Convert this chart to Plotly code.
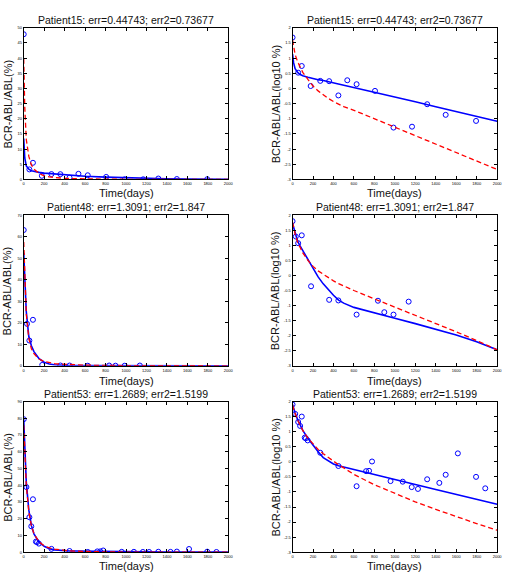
import plotly.graph_objects as go

W, H = 513, 578

titles = ["Patient15: err=0.44743; err2=0.73677",
          "Patient48: err=1.3091; err2=1.847",
          "Patient53: err=1.2689; err2=1.5199"]

# model time grid (days)
t_model = [0, 10, 25, 50, 75, 100, 150, 200, 250, 300, 350, 400, 450, 500,
           600, 800, 1000, 1200, 1400, 1600, 1800, 2000]

# ---- Patient15 ----
p15_t = [0, 55, 90, 177, 271, 358, 448, 535, 626, 806, 987, 1168, 1316, 1497, 1794]
p15_log = [1.68, 0.52, 0.74, 0.08, 0.25, 0.24, -0.23, 0.27, 0.14, -0.08, -1.29, -1.26, -0.52, -0.87, -1.07]
p15_blue = [1.13, 0.85, 0.65, 0.53, 0.46, 0.42, 0.37, 0.32, 0.29, 0.26, 0.22, 0.19, 0.15, 0.11,
            0.03, -0.12, -0.28, -0.44, -0.60, -0.76, -0.92, -1.08]
p15_red = [1.60, 1.38, 1.12, 0.88, 0.68, 0.53, 0.30, 0.08, -0.08, -0.22, -0.33, -0.43, -0.52, -0.60,
           -0.72, -1.00, -1.27, -1.55, -1.84, -2.10, -2.39, -2.67]

# ---- Patient48 ----
p48_t = [0, 32, 55, 90, 181, 358, 448, 626, 835, 897, 987, 1135]
p48_log = [1.80, 1.29, 1.07, 1.33, -0.36, -0.81, -0.83, -1.30, -0.84, -1.22, -1.30, -0.87]
p48_blue = [1.72, 1.60, 1.40, 1.13, 0.97, 0.82, 0.52, 0.22, -0.05, -0.28, -0.48, -0.66, -0.82, -0.92,
            -1.06, -1.25, -1.42, -1.60, -1.78, -1.98, -2.20, -2.47]
p48_red = [1.76, 1.60, 1.38, 1.10, 0.90, 0.75, 0.50, 0.30, 0.15, 0.03, -0.08, -0.18, -0.27, -0.35,
           -0.50, -0.78, -1.05, -1.33, -1.60, -1.87, -2.16, -2.47]

# ---- Patient53 ----
p53_t = [0, 26, 55, 74, 90, 119, 130, 148, 271, 448, 626, 719, 748, 777, 958, 1077, 1165, 1226,
         1316, 1435, 1497, 1616, 1794, 1884]
p53_log = [1.90, 1.59, 1.32, 1.19, 1.50, 0.80, 0.78, 0.71, 0.30, -0.14, -0.81, -0.31, -0.30, 0.01,
           -0.64, -0.66, -0.84, -0.90, -0.58, -0.70, -0.43, 0.28, -0.50, -0.88]
p53_blue = [1.90, 1.78, 1.62, 1.40, 1.20, 1.04, 0.78, 0.55, 0.33, 0.14, 0.02, -0.07, -0.13, -0.17,
            -0.25, -0.41, -0.58, -0.75, -0.92, -1.08, -1.25, -1.41]
p53_red = [1.88, 1.76, 1.60, 1.38, 1.20, 1.04, 0.79, 0.58, 0.41, 0.27, 0.14, 0.02, -0.10, -0.20,
           -0.42, -0.76, -1.05, -1.33, -1.58, -1.82, -2.05, -2.27]

lin_ymax = [50, 70, 90]
lin_dtick = [5, 10, 10]
x_ticks = list(range(0, 2001, 200))
log_ticks = [-3, -2.5, -2, -1.5, -1, -0.5, 0, 0.5, 1, 1.5, 2]

data_t = [p15_t, p48_t, p53_t]
data_log = [p15_log, p48_log, p53_log]
blue_log = [p15_blue, p48_blue, p53_blue]
red_log = [p15_red, p48_red, p53_red]

def pct(v):
    return [10 ** x for x in v]

# panel geometry in pixels
col_px = [(23, 230), (295, 502)]
row_px = [(25, 178), (214, 366), (402, 554)]
title_y = [17, 206, 394]
xlab_y = [192, 381, 568]

fig = go.Figure()
layout = {}
annotations = []
FONT = "Liberation Sans, Arial, sans-serif"
BLUE = "#0000ff"
RED = "#ff0000"

n = 0
for r in range(3):
    for c in range(2):
        n += 1
        xa = "x" if n == 1 else f"x{n}"
        ya = "y" if n == 1 else f"y{n}"
        conv = pct if c == 0 else (lambda v: v)
        fig.add_trace(go.Scatter(x=data_t[r], y=conv(data_log[r]), mode="markers",
                                 marker=dict(symbol="circle-open", color=BLUE, size=5,
                                             line=dict(width=1, color=BLUE)),
                                 xaxis=xa, yaxis=ya, showlegend=False))
        fig.add_trace(go.Scatter(x=t_model, y=conv(blue_log[r]), mode="lines",
                                 line=dict(color=BLUE, width=1.6),
                                 xaxis=xa, yaxis=ya, showlegend=False))
        fig.add_trace(go.Scatter(x=t_model, y=conv(red_log[r]), mode="lines",
                                 line=dict(color=RED, width=1.3, dash="5px,3px"),
                                 xaxis=xa, yaxis=ya, showlegend=False))
        x0, x1 = col_px[c]
        y0, y1 = row_px[r]
        common = dict(showline=True, linecolor="black", linewidth=1, mirror="ticks",
                      ticks="inside", ticklen=3, tickcolor="black", tickwidth=1,
                      showgrid=False, zeroline=False,
                      tickfont=dict(size=4, color="black", family=FONT))
        layout["xaxis" if n == 1 else f"xaxis{n}"] = dict(
            domain=[x0 / W, x1 / W], anchor=ya, range=[0, 2000],
            tickvals=x_ticks, **common)
        if c == 0:
            yd = dict(range=[0, lin_ymax[r]], dtick=lin_dtick[r], tick0=0)
        else:
            yd = dict(range=[-3, 2], tickvals=log_ticks,
                      ticktext=[f"{v:g}" for v in log_ticks])
        layout["yaxis" if n == 1 else f"yaxis{n}"] = dict(
            domain=[1 - y1 / H, 1 - y0 / H], anchor=xa, **yd, **common)
        annotations.append(dict(text=titles[r], x=(x0 + x1) / 2 / W, y=1 - title_y[r] / H,
                                xref="paper", yref="paper", showarrow=False,
                                xanchor="center", yanchor="middle",
                                font=dict(size=10.5, color="#111", family=FONT)))
        annotations.append(dict(text="Time(days)", x=(x0 + x1) / 2 / W, y=1 - xlab_y[r] / H,
                                xref="paper", yref="paper", showarrow=False,
                                xanchor="center", yanchor="middle",
                                font=dict(size=11, color="#111", family=FONT)))
        ylab = "BCR-ABL/ABL(%)" if c == 0 else "BCR-ABL/ABL(log10 %)"
        ylx = 7 if c == 0 else 278
        annotations.append(dict(text=ylab, x=ylx / W, y=1 - (y0 + y1) / 2 / H,
                                xref="paper", yref="paper", showarrow=False, textangle=-90,
                                xanchor="center", yanchor="middle",
                                font=dict(size=11, color="#111", family=FONT)))

fig.update_layout(width=W, height=H, margin=dict(l=0, r=0, t=0, b=0),
                  paper_bgcolor="white", plot_bgcolor="white",
                  annotations=annotations, **layout)
fig.write_html("out.html")
